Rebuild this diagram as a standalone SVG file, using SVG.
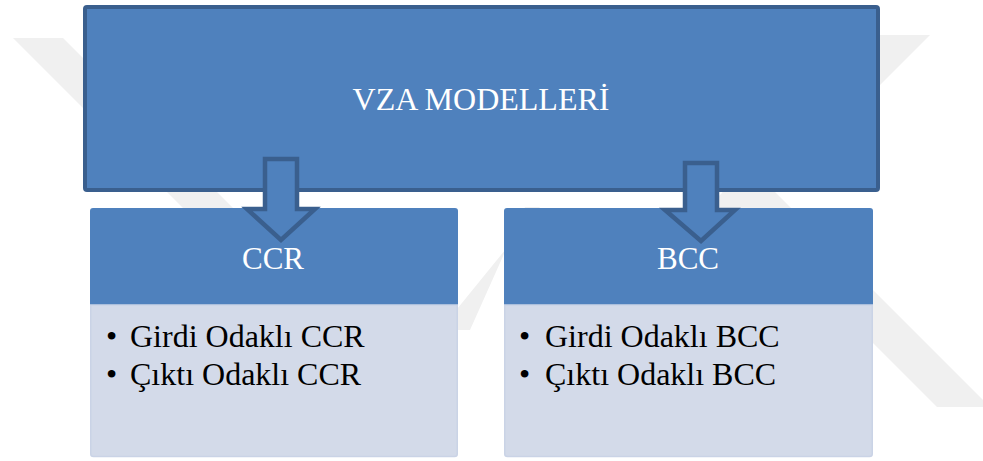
<svg xmlns="http://www.w3.org/2000/svg" width="983" height="461" viewBox="0 0 983 461">
<style>
.wm{fill:#F0F0F0}
.head{fill:#4F81BD}
.body{fill:#D3DAE9;stroke:#CAD3E6;stroke-width:1.5}
.arrow{fill:#4F81BD;stroke:#3A5F8E;stroke-width:4.5;stroke-linejoin:miter}
.ht{font-family:"Liberation Serif","Times New Roman",serif;fill:#FFFFFF;text-anchor:middle}
.bt{font-family:"Liberation Serif","Times New Roman",serif;fill:#000000;font-size:32px}
</style>
<rect width="983" height="461" fill="#FFFFFF"/>
<g id="watermark">
<polygon class="wm" points="13,38 63,38 432,407 382,407"/>
<polygon class="wm" points="565,35 618,35 990,407 937,407"/>
<polygon class="wm" points="880,35 930,35 700,265 650,265"/>
<polygon class="wm" points="540,207 525,207 470,330 440,330"/>
</g>
<g id="vza">
<rect x="85" y="7" width="793" height="183" rx="2" fill="#4F81BD" stroke="#3A5F8E" stroke-width="4"/>
<text class="ht" x="481" y="110" font-size="32">VZA MODELLERİ</text>
</g>
<g id="ccr">
<path class="head" d="M93,208 H455 Q458,208 458,211 V305 H90 V211 Q90,208 93,208 Z"/>
<path class="body" d="M90.75,305 H457.25 V454 Q457.25,456.5 454.5,456.5 H93.5 Q90.75,456.5 90.75,454 Z"/>
<text class="ht" x="273" y="269" font-size="31">CCR</text>
<text class="bt" x="106" y="347">•</text>
<text class="bt" x="130" y="347">Girdi Odaklı CCR</text>
<text class="bt" x="106" y="385">•</text>
<text class="bt" x="130" y="385">Çıktı Odaklı CCR</text>
</g>
<g id="bcc">
<path class="head" d="M507,208 H870 Q873,208 873,211 V305 H504 V211 Q504,208 507,208 Z"/>
<path class="body" d="M504.75,305 H872.25 V454 Q872.25,456.5 869.5,456.5 H507.5 Q504.75,456.5 504.75,454 Z"/>
<text class="ht" x="688" y="269" font-size="31">BCC</text>
<text class="bt" x="519" y="347">•</text>
<text class="bt" x="545" y="347">Girdi Odaklı BCC</text>
<text class="bt" x="519" y="385">•</text>
<text class="bt" x="545" y="385">Çıktı Odaklı BCC</text>
</g>
<g id="connectors">
<path class="arrow" d="M265,159 H297 V209 H315 L281,240 L247,209 H265 Z"/>
<path class="arrow" d="M685,163 H717 V210 H735 L701,241 L665,210 H685 Z"/>
</g>
</svg>
